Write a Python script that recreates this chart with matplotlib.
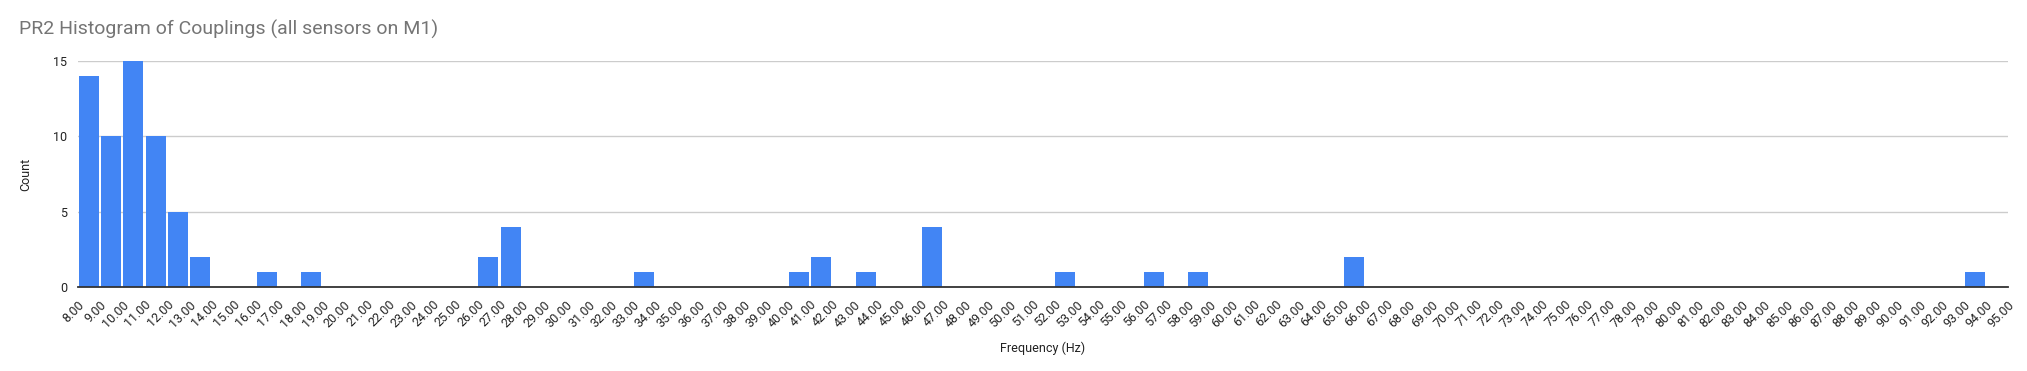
import matplotlib
matplotlib.use("Agg")
from matplotlib import pyplot as plt

# histogram buckets (left edge, Hz) and their counts; empty buckets are 0
bin_starts = list(range(8, 95))
nonzero = {8: 14, 9: 10, 10: 15, 11: 10, 12: 5, 13: 2, 16: 1, 18: 1,
           26: 2, 27: 4, 33: 1, 40: 1, 41: 2, 43: 1, 46: 4, 52: 1,
           56: 1, 58: 1, 65: 2, 93: 1}
counts = [nonzero.get(b, 0) for b in bin_starts]
tick_values = list(range(8, 96))
tick_labels = ["%.2f" % v for v in tick_values]

TITLE = "PR2 Histogram of Couplings (all sensors on M1)"
BAR = "#4285F4"

plt.rcParams['font.family'] = ['Roboto', 'DejaVu Sans']

W, H = 2027, 371
fig = plt.figure(figsize=(W / 100, H / 100), dpi=100)
ax = fig.add_axes([78 / W, 1 - 287 / H, (2008 - 78) / W, (287 - 61) / H])

ax.bar([b + 0.5 for b in bin_starts], counts, width=0.9, color=BAR, zorder=3)

ax.set_xlim(8, 95)
ax.set_ylim(0, 15)
ax.set_yticks([0, 5, 10, 15])
ax.set_xticks(tick_values)
ax.set_xticklabels(tick_labels, rotation=45, ha='right', va='top',
                   rotation_mode='anchor')
ax.tick_params(axis='x', length=0, pad=8, labelsize=9, labelcolor='#222222')
ax.tick_params(axis='y', length=0, pad=8, labelsize=9, labelcolor='#222222')

ax.grid(axis='y', color='#cccccc', linewidth=1, zorder=0)
for side in ['top', 'right', 'left']:
    ax.spines[side].set_visible(False)
ax.spines['bottom'].set_color('#333333')
ax.spines['bottom'].set_linewidth(1.3)
ax.spines['bottom'].set_zorder(4)

fig.text(26 / W, 1 - 174 / H, "Count", rotation=90, ha='center', va='center',
         fontsize=9, color='#222222')
fig.text(1043 / W, 1 - 348 / H, "Frequency (Hz)", ha='center', va='center',
         fontsize=9, color='#222222')
fig.text(19 / W, 1 - 29 / H, TITLE, ha='left', va='center', fontsize=14,
         color='#757575')

fig.savefig("out.png", dpi=100)
